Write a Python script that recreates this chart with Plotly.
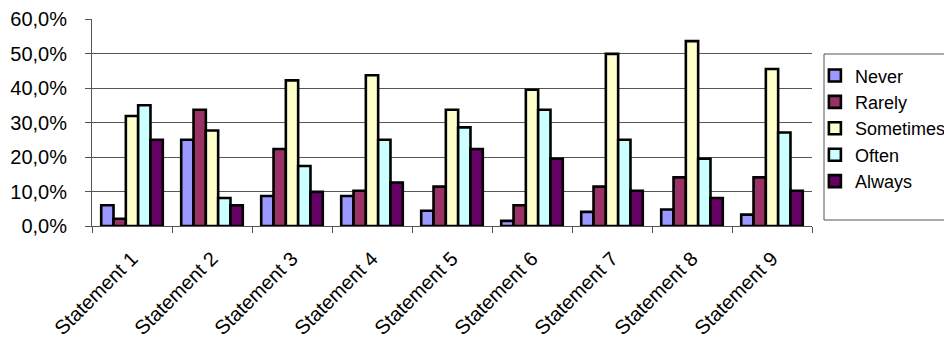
import plotly.graph_objects as go

# Survey responses per statement (share of respondents)
statements = [f"Statement {i}" for i in range(1, 10)]
never = [0.060, 0.250, 0.087, 0.087, 0.044, 0.015, 0.041, 0.048, 0.033]
rarely = [0.021, 0.337, 0.223, 0.102, 0.114, 0.060, 0.114, 0.141, 0.141]
sometimes = [0.319, 0.277, 0.422, 0.437, 0.337, 0.395, 0.499, 0.536, 0.455]
often = [0.350, 0.081, 0.174, 0.250, 0.286, 0.337, 0.250, 0.195, 0.271]
always = [0.250, 0.060, 0.099, 0.126, 0.223, 0.195, 0.102, 0.081, 0.102]

series = [
    ("Never", never, "#9999FF"),
    ("Rarely", rarely, "#993366"),
    ("Sometimes", sometimes, "#FFFFCC"),
    ("Often", often, "#CCFFFF"),
    ("Always", always, "#660066"),
]

fig = go.Figure()
for name, vals, color in series:
    fig.add_trace(go.Bar(
        x=statements, y=vals, name=name,
        marker=dict(color=color, line=dict(color="black", width=2.6)),
    ))

font_family = "Liberation Sans, Arial, sans-serif"
fig.update_layout(
    width=944, height=340,
    margin=dict(l=92, r=132, t=19, b=114, autoexpand=False),
    paper_bgcolor="white", plot_bgcolor="white",
    separators=",.",
    barmode="group", bargap=0.23, bargroupgap=0,
    font=dict(family=font_family, size=20, color="black"),
    legend=dict(
        x=1.004, y=0.815, xanchor="left", yanchor="top",
        borderwidth=0, bgcolor="rgba(0,0,0,0)",
        font=dict(size=18), itemwidth=30,
    ),
    xaxis=dict(
        type="category", tickangle=-45, tickson="boundaries",
        ticks="outside", ticklen=6, tickcolor="#555555",
        ticklabelstandoff=12,
        showline=True, linecolor="#555555", linewidth=1,
        showgrid=False, tickfont=dict(size=20),
    ),
    yaxis=dict(
        range=[0, 0.6], dtick=0.1, tickformat=".1%",
        ticks="outside", ticklen=6, tickcolor="#555555",
        ticklabelstandoff=14,
        showline=True, linecolor="#555555", linewidth=1,
        showgrid=True, gridcolor="#555555", gridwidth=1,
        zeroline=False, tickfont=dict(size=20),
    ),
)

# Legend frame
fig.add_shape(
    type="rect", xref="paper", yref="paper",
    x0=(824 - 92) / 720, x1=1.2, y0=6 / 207, y1=172 / 207,
    line=dict(color="#555555", width=1), fillcolor="rgba(0,0,0,0)",
    layer="below",
)

fig.write_html("out.html")
